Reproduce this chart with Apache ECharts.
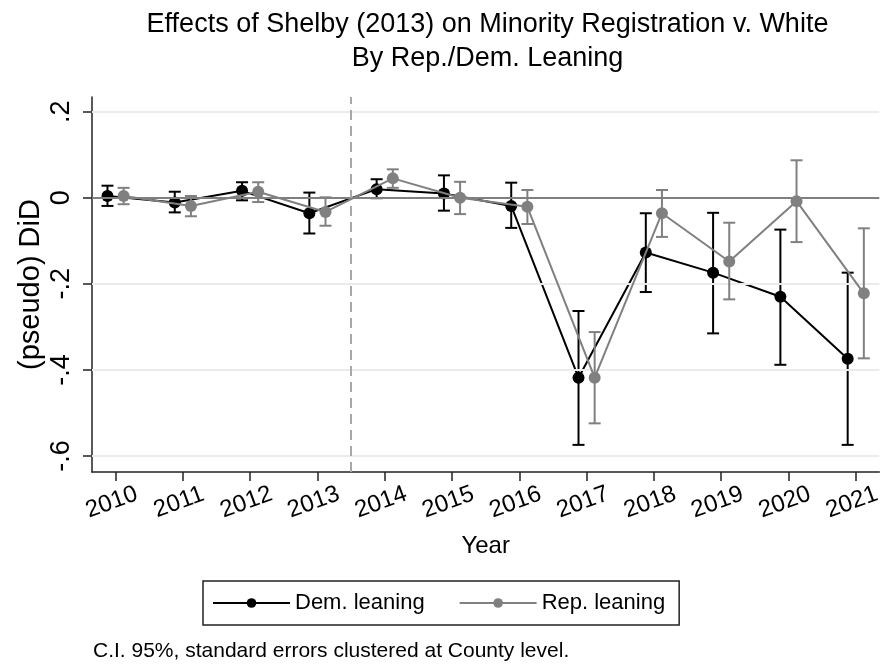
<!DOCTYPE html>
<html>
<head>
<meta charset="utf-8">
<script src="https://cdn.jsdelivr.net/npm/echarts@6/dist/echarts.min.js"></script>
<style>html,body{margin:0;padding:0;background:#fff;}#c{width:884px;height:664px;}</style>
</head>
<body>
<div id="c"></div>
<script>
const years = [2010, 2011, 2012, 2013, 2014, 2015, 2016, 2017, 2018, 2019, 2020, 2021];
const demCoef = [0.004, -0.011, 0.016, -0.036, 0.020, 0.010, -0.019, -0.418, -0.127, -0.174, -0.230, -0.374];
const demLo   = [-0.019, -0.034, -0.006, -0.083, -0.001, -0.030, -0.070, -0.574, -0.219, -0.315, -0.388, -0.574];
const demHi   = [0.028, 0.014, 0.036, 0.012, 0.043, 0.052, 0.035, -0.263, -0.036, -0.035, -0.074, -0.174];
const repCoef = [0.004, -0.019, 0.014, -0.033, 0.045, 0.000, -0.021, -0.418, -0.036, -0.148, -0.008, -0.222];
const repLo   = [-0.015, -0.043, -0.010, -0.065, 0.023, -0.038, -0.061, -0.524, -0.091, -0.236, -0.103, -0.373];
const repHi   = [0.023, 0.004, 0.036, 0.001, 0.066, 0.037, 0.018, -0.312, 0.018, -0.058, 0.087, -0.071];
const yTicks = [-0.6, -0.4, -0.2, 0, 0.2];
const yTickLabels = ['-.6', '-.4', '-.2', '0', '.2'];
const treatLine = 2013.5;

const OFF = 0.12;
const DEM = '#000000', REP = '#808080';
const FONT = 'Liberation Sans, Arial, Helvetica, sans-serif';

function errBars(color) {
  return function (params, api) {
    const x = api.value(0);
    const top = api.coord([x, api.value(2)]);
    const bot = api.coord([x, api.value(1)]);
    const hw = 6;
    const st = { stroke: color, lineWidth: 2 };
    return {
      type: 'group',
      children: [
        { type: 'line', shape: { x1: top[0], y1: top[1], x2: bot[0], y2: bot[1] }, style: st },
        { type: 'line', shape: { x1: top[0] - hw, y1: top[1], x2: top[0] + hw, y2: top[1] }, style: st },
        { type: 'line', shape: { x1: bot[0] - hw, y1: bot[1], x2: bot[0] + hw, y2: bot[1] }, style: st }
      ]
    };
  };
}

const chart = echarts.init(document.getElementById('c'), null, { renderer: 'canvas' });
chart.setOption({
  animation: false,
  backgroundColor: '#ffffff',
  textStyle: { fontFamily: FONT },
  title: {
    text: 'Effects of Shelby (2013) on Minority Registration v. White\nBy Rep./Dem. Leaning',
    left: 487.5, top: 8, padding: 0, textAlign: 'center',
    textStyle: { fontSize: 27, fontWeight: 'normal', color: '#000', lineHeight: 34, fontFamily: FONT }
  },
  grid: { left: 92, right: 1, top: 97, bottom: 192, containLabel: false },
  legend: {
    data: ['Dem. leaning', 'Rep. leaning'],
    left: 203, top: 581,
    padding: [11, 14, 11, 9],
    borderColor: '#222', borderWidth: 1.5,
    itemWidth: 77, itemHeight: 12, itemGap: 34,
    textStyle: { fontSize: 22, color: '#000', fontFamily: FONT }
  },
  xAxis: {
    type: 'value', min: 2009.65, max: 2021.35,
    name: 'Year', nameLocation: 'middle', nameGap: 62, nameMoveOverlap: false,
    nameTextStyle: { fontSize: 24, color: '#000', fontFamily: FONT },
    axisLine: { show: true, onZero: false, lineStyle: { color: '#222', width: 1.5 } },
    axisTick: { show: true, customValues: years, length: 9, lineStyle: { color: '#222', width: 1.5 } },
    axisLabel: {
      customValues: years, rotate: 20, align: 'center', verticalAlign: 'middle', margin: 29,
      padding: [0, 8, 0, 0],
      fontSize: 24, color: '#000', fontFamily: FONT,
      formatter: v => String(Math.round(v))
    },
    splitLine: { show: false }
  },
  yAxis: {
    type: 'value', min: -0.637, max: 0.234,
    name: '(pseudo) DiD', nameLocation: 'middle', nameGap: 47, nameRotate: 90, nameMoveOverlap: false,
    nameTextStyle: { fontSize: 29, color: '#000', fontFamily: FONT },
    axisLine: { show: true, onZero: false, lineStyle: { color: '#222', width: 1.5 } },
    axisTick: { show: true, customValues: yTicks, length: 9, lineStyle: { color: '#222', width: 1.5 } },
    axisLabel: {
      customValues: yTicks, rotate: 90, margin: 17,
      fontSize: 27, color: '#000', fontFamily: FONT,
      formatter: v => { const i = yTicks.findIndex(t => Math.abs(t - v) < 1e-9); return i >= 0 ? yTickLabels[i] : ''; }
    },
    splitLine: { show: false }
  },
  graphic: [{
    type: 'text', left: 93, top: 641,
    style: { text: 'C.I. 95%, standard errors clustered at County level.', fontSize: 21, fill: '#000', fontFamily: FONT }
  }],
  series: [
    {
      name: 'grid', type: 'custom', z: 1, silent: true,
      data: [], renderItem: () => null,
      markLine: {
        silent: true, symbol: 'none', label: { show: false }, animation: false,
        data: yTicks.filter(t => t !== 0).map(t => ({ yAxis: t, lineStyle: { color: '#ebebeb', width: 2, type: 'solid' } }))
          .concat([
            { yAxis: 0, lineStyle: { color: '#7f7f7f', width: 2, type: 'solid' } },
            { xAxis: treatLine, lineStyle: { color: '#a8a8a8', width: 2, type: [10, 6] } }
          ])
      }
    },
    {
      name: 'Dem. leaning CI', type: 'custom', z: 3,
      renderItem: errBars(DEM),
      encode: { x: 0, y: [1, 2] },
      data: years.map((y, i) => [y - OFF, demLo[i], demHi[i]])
    },
    {
      name: 'Dem. leaning', type: 'line', z: 4,
      color: DEM,
      symbol: 'circle', symbolSize: 12,
      lineStyle: { color: DEM, width: 2 },
      itemStyle: { color: DEM },
      data: years.map((y, i) => [y - OFF, demCoef[i]])
    },
    {
      name: 'Rep. leaning CI', type: 'custom', z: 5,
      renderItem: errBars(REP),
      encode: { x: 0, y: [1, 2] },
      data: years.map((y, i) => [y + OFF, repLo[i], repHi[i]])
    },
    {
      name: 'Rep. leaning', type: 'line', z: 6,
      color: REP,
      symbol: 'circle', symbolSize: 12,
      lineStyle: { color: REP, width: 2 },
      itemStyle: { color: REP },
      data: years.map((y, i) => [y + OFF, repCoef[i]])
    }
  ]
});
</script>
</body>
</html>
